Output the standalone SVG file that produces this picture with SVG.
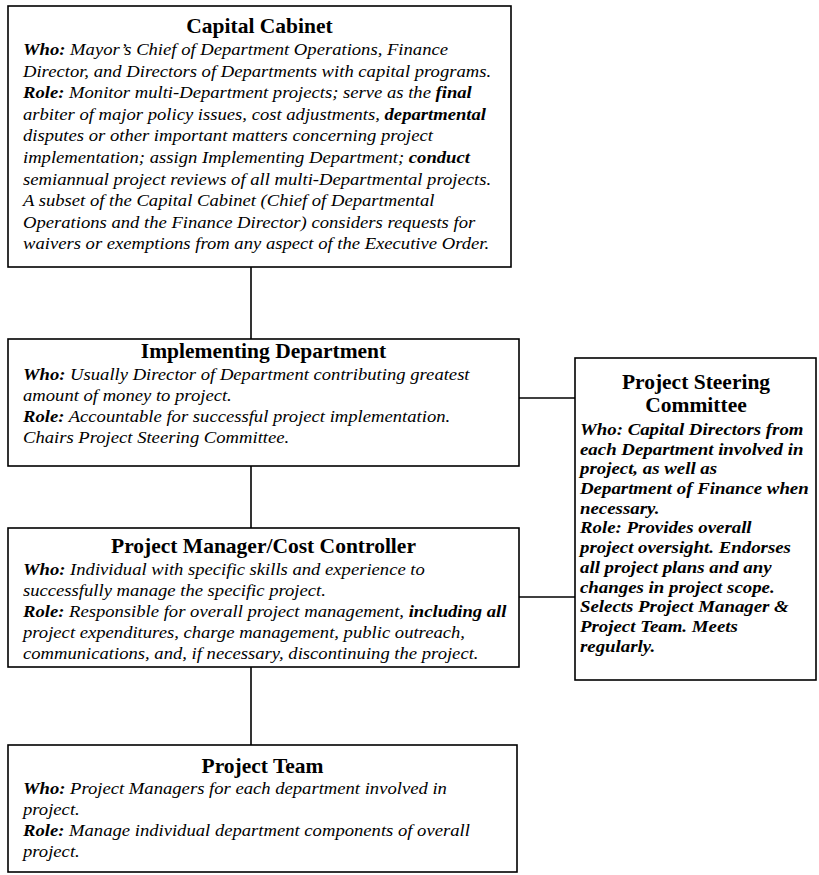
<svg xmlns="http://www.w3.org/2000/svg" width="819" height="875" viewBox="0 0 819 875">
<style>
.box{fill:#fff;stroke:#000;stroke-width:1.6}
.conn line{stroke:#000;stroke-width:1.6}
.title{font-family:"Liberation Serif","Times New Roman",serif;font-weight:bold;font-size:21.5px;text-anchor:middle;fill:#000}
.body{font-family:"Liberation Serif","Times New Roman",serif;font-style:italic;font-size:17.5px;fill:#000}
.b{font-weight:bold}
.sc{font-family:"Liberation Serif","Times New Roman",serif;font-style:italic;font-weight:bold;font-size:17.3px;fill:#000}
</style>
<rect width="819" height="875" fill="#fff"/>
<g id="connectors" class="conn">
<line x1="251" y1="267" x2="251" y2="339"/>
<line x1="251" y1="466" x2="251" y2="528"/>
<line x1="251" y1="667" x2="251" y2="745"/>
<line x1="519" y1="398" x2="575" y2="398"/>
<line x1="519" y1="597" x2="575" y2="597"/>
</g>
<g id="capital-cabinet">
<rect class="box" x="8" y="6" width="503" height="261"/>
<text class="title" x="259.5" y="33">Capital Cabinet</text>
<g transform="translate(23,0) scale(1.065,1)" class="body">
<text y="55"><tspan class="b">Who:</tspan> Mayor’s Chief of Department Operations, Finance</text>
<text y="76.6">Director, and Directors of Departments with capital programs.</text>
<text y="98.2"><tspan class="b">Role:</tspan> Monitor multi-Department projects; serve as the <tspan class="b">final</tspan></text>
<text y="119.8">arbiter of major policy issues, cost adjustments, <tspan class="b">departmental</tspan></text>
<text y="141.4">disputes or other important matters concerning project</text>
<text y="163">implementation; assign Implementing Department; <tspan class="b">conduct</tspan></text>
<text y="184.6">semiannual project reviews of all multi-Departmental projects.</text>
<text y="206.2">A subset of the Capital Cabinet (Chief of Departmental</text>
<text y="227.8">Operations and the Finance Director) considers requests for</text>
<text y="249.4">waivers or exemptions from any aspect of the Executive Order.</text>
</g>
</g>
<g id="implementing-department">
<rect class="box" x="8" y="339" width="511" height="127"/>
<text class="title" x="263.5" y="358">Implementing Department</text>
<g transform="translate(23,0) scale(1.065,1)" class="body">
<text y="380"><tspan class="b">Who:</tspan> Usually Director of Department contributing greatest</text>
<text y="401">amount of money to project.</text>
<text y="422"><tspan class="b">Role:</tspan> Accountable for successful project implementation.</text>
<text y="443">Chairs Project Steering Committee.</text>
</g>
</g>
<g id="project-manager">
<rect class="box" x="8" y="528" width="511" height="139"/>
<text class="title" x="263.5" y="553">Project Manager/Cost Controller</text>
<g transform="translate(23,0) scale(1.065,1)" class="body">
<text y="575"><tspan class="b">Who:</tspan> Individual with specific skills and experience to</text>
<text y="596">successfully manage the specific project.</text>
<text y="617"><tspan class="b">Role:</tspan> Responsible for overall project management, <tspan class="b">including all</tspan></text>
<text y="638">project expenditures, charge management, public outreach,</text>
<text y="659">communications, and, if necessary, discontinuing the project.</text>
</g>
</g>
<g id="project-team">
<rect class="box" x="8" y="745" width="509" height="127"/>
<text class="title" x="262.5" y="773">Project Team</text>
<g transform="translate(23,0) scale(1.065,1)" class="body">
<text y="794"><tspan class="b">Who:</tspan> Project Managers for each department involved in</text>
<text y="815">project.</text>
<text y="836"><tspan class="b">Role:</tspan> Manage individual department components of overall</text>
<text y="857">project.</text>
</g>
</g>
<g id="project-steering-committee">
<rect class="box" x="575" y="358" width="241" height="322"/>
<text class="title" x="696" y="389">Project Steering</text>
<text class="title" x="696" y="412">Committee</text>
<g transform="translate(580,0) scale(1.09,1)" class="sc">
<text y="435">Who: Capital Directors from</text>
<text y="454.7">each Department involved in</text>
<text y="474.4">project, as well as</text>
<text y="494.1">Department of Finance when</text>
<text y="513.8">necessary.</text>
<text y="533.5">Role: Provides overall</text>
<text y="553.2">project oversight. Endorses</text>
<text y="572.9">all project plans and any</text>
<text y="592.6">changes in project scope.</text>
<text y="612.3">Selects Project Manager &amp;</text>
<text y="632">Project Team. Meets</text>
<text y="651.7">regularly.</text>
</g>
</g>
</svg>
